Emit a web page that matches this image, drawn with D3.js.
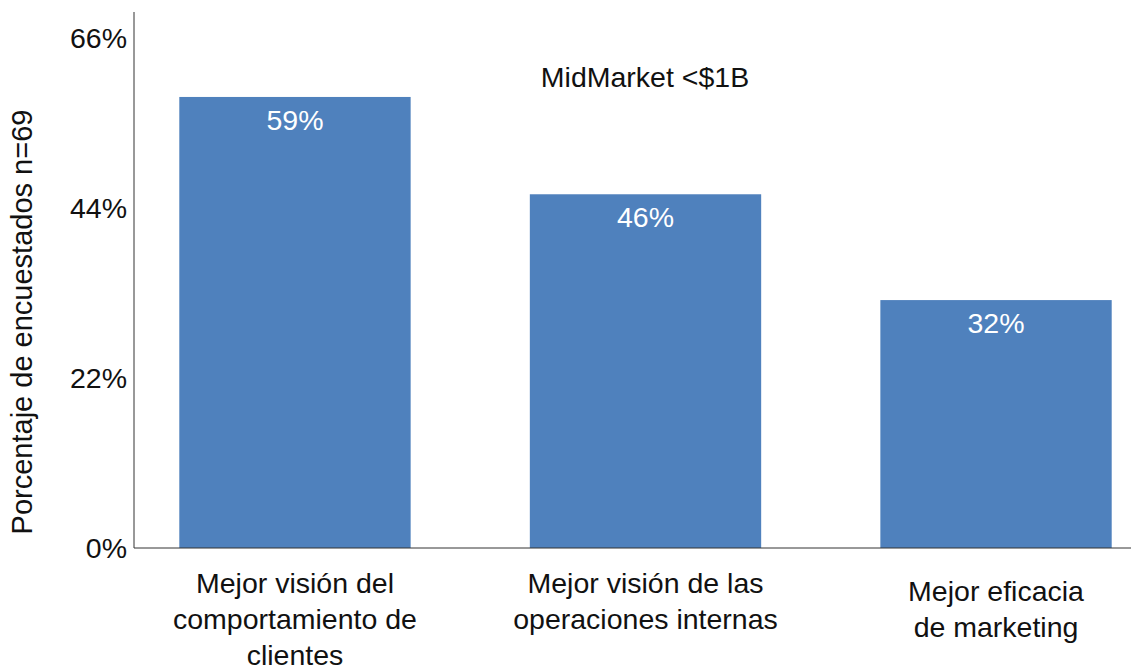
<!DOCTYPE html>
<html lang="es">
<head>
  <meta charset="UTF-8">
  <title>MidMarket &lt;$1B</title>
  <style>
    body { margin: 0; background: #fff; font-family: "Liberation Sans", Arial, sans-serif; }
    .axis path { stroke: #333; }
    .axis line { display: none; }
    .axis text { font-size: 28.5px; fill: #111; font-family: "Liberation Sans", Arial, sans-serif; }
  </style>
</head>
<body>
  <svg width="1131" height="669"></svg>
  <script src="https://d3js.org/d3.v7.min.js"></script>
  <script>
    const categories = [
      ["Mejor visión del", "comportamiento de", "clientes"],
      ["Mejor visión de las", "operaciones internas"],
      ["Mejor eficacia", "de marketing"]
    ];
    const values = [58.4, 45.8, 32.1];
    const valueLabels = ["59%", "46%", "32%"];
    const yTicks = [0, 22, 44, 66];
    const title = "MidMarket <$1B";
    const yTitle = "Porcentaje de encuestados n=69";

    const svg = d3.select("svg");
    const x0 = 134, yBase = 548;

    const x = d3.scaleBand()
      .domain(d3.range(categories.length))
      .range([146, 1145])
      .paddingInner(0.34)
      .paddingOuter(0.095);

    const y = d3.scaleLinear().domain([0, 69.4]).range([yBase, 12]);

    // bars
    svg.selectAll("rect.bar").data(values).enter().append("rect")
      .attr("class", "bar")
      .attr("x", (d, i) => x(i))
      .attr("width", x.bandwidth())
      .attr("y", d => y(d))
      .attr("height", d => yBase - y(d))
      .attr("fill", "#4f81bd");

    // value labels inside bars
    svg.selectAll("text.val").data(values).enter().append("text")
      .attr("class", "val")
      .attr("x", (d, i) => x(i) + x.bandwidth() / 2)
      .attr("y", d => y(d) + 33)
      .attr("text-anchor", "middle")
      .attr("font-size", 28.5)
      .attr("fill", "#fff")
      .text((d, i) => valueLabels[i]);

    // y axis
    svg.append("g").attr("class", "axis")
      .attr("transform", `translate(${x0},0)`)
      .call(d3.axisLeft(y).tickValues(yTicks).tickFormat(d => d + "%").tickSize(0).tickPadding(7))
      .call(g => g.select(".domain").attr("d", `M0,${y.range()[1]}V${yBase}`));

    // x axis line
    svg.append("line")
      .attr("x1", x0).attr("x2", 1131)
      .attr("y1", yBase).attr("y2", yBase)
      .attr("stroke", "#333");

    // category labels
    const catG = svg.selectAll("text.cat").data(categories).enter().append("text")
      .attr("class", "cat")
      .attr("text-anchor", "middle")
      .attr("font-size", 28.5)
      .attr("fill", "#111")
      .attr("transform", (d, i) => `translate(${x(i) + x.bandwidth() / 2},${i === 2 ? 601 : 593})`);
    catG.selectAll("tspan").data(d => d).enter().append("tspan")
      .attr("x", 0)
      .attr("dy", (d, j) => j === 0 ? 0 : 36)
      .text(d => d);

    // title
    svg.append("text")
      .attr("x", 645).attr("y", 87)
      .attr("text-anchor", "middle")
      .attr("font-size", 28.5)
      .attr("fill", "#111")
      .text(title);

    // y axis title
    svg.append("text")
      .attr("transform", "translate(32,322) rotate(-90)")
      .attr("text-anchor", "middle")
      .attr("font-size", 29)
      .attr("fill", "#111")
      .text(yTitle);
  </script>
</body>
</html>
